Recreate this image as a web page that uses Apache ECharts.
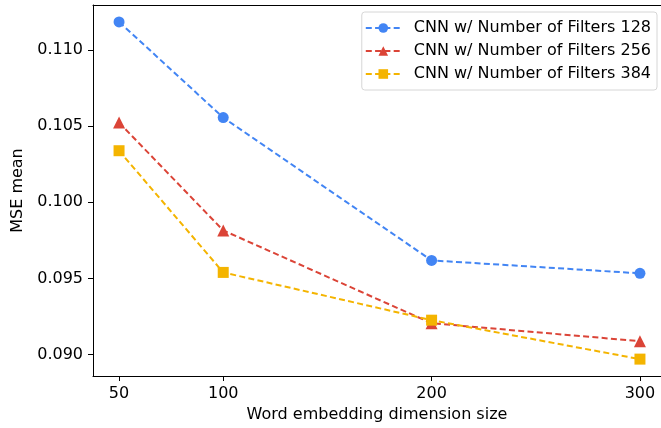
<!DOCTYPE html>
<html>
<head>
<meta charset="utf-8">
<script src="https://cdn.jsdelivr.net/npm/echarts@6/dist/echarts.min.js"></script>
<style>
  html, body { margin: 0; padding: 0; background: #fff; }
  #chart { width: 661px; height: 428px; }
</style>
</head>
<body>
<div id="chart"></div>
<script>
// data
const dims = [50, 100, 200, 300];
const filters128 = [0.11186, 0.10557, 0.09618, 0.09533];
const filters256 = [0.10524, 0.09815, 0.09205, 0.09087];
const filters384 = [0.10339, 0.09539, 0.09225, 0.08969];
const xTicks = [50, 100, 200, 300];
const yTicks = [0.090, 0.095, 0.100, 0.105, 0.110];

const font = "DejaVu Sans";

function makeSeries(name, values, color, symbol, size) {
  return {
    name: name,
    type: "line",
    data: dims.map((d, i) => [d, values[i]]),
    symbol: symbol,
    symbolSize: size,
    color: color,
    itemStyle: { color: color },
    lineStyle: { color: color, width: 2, type: [6, 3.3] },
  };
}

const chart = echarts.init(document.getElementById("chart"));

const axisLine = { show: true, lineStyle: { color: "#000", width: 1 } };

const option = {
  animation: false,
  textStyle: { fontFamily: font },
  grid: { left: 93, top: 5, right: 0, bottom: 52 },
  legend: {
    orient: "vertical",
    right: 4,
    top: 12,
    itemWidth: 35,
    itemHeight: 12,
    itemGap: 7,
    padding: [8, 6, 8, 3],
    borderColor: "#d6d6d6",
    borderWidth: 1,
    borderRadius: 3,
    backgroundColor: "rgba(255,255,255,0.8)",
    textStyle: { fontFamily: font, fontSize: 16, color: "#000", padding: [0, 0, 0, 8] },
  },
  xAxis: [
    {
      type: "value",
      min: 37.5,
      max: 310.1,
      name: "Word embedding dimension size",
      nameLocation: "middle",
      nameGap: 29,
      nameTextStyle: { fontFamily: font, fontSize: 16, color: "#000" },
      axisLine: axisLine,
      axisTick: { show: true, length: 5, customValues: xTicks, lineStyle: { color: "#000" } },
      axisLabel: { customValues: xTicks, fontSize: 16, color: "#000", margin: 10 },
      splitLine: { show: false },
    },
    {
      type: "value",
      position: "top",
      min: 37.5,
      max: 310.1,
      axisLine: axisLine,
      axisTick: { show: false },
      axisLabel: { show: false },
      splitLine: { show: false },
    },
  ],
  yAxis: {
    type: "value",
    min: 0.08858,
    max: 0.11297,
    name: "MSE mean",
    nameLocation: "middle",
    nameGap: 63,
    nameTextStyle: { fontFamily: font, fontSize: 16, color: "#000" },
    axisLine: axisLine,
    axisTick: { show: true, length: 5, customValues: yTicks, lineStyle: { color: "#000" } },
    axisLabel: {
      customValues: yTicks, fontSize: 16, color: "#000", margin: 10,
      formatter: (v) => v.toFixed(3),
    },
    splitLine: { show: false },
  },
  series: [
    makeSeries("CNN w/ Number of Filters 128", filters128, "#4285F4", "circle", 11),
    makeSeries("CNN w/ Number of Filters 256", filters256, "#DB4437", "triangle", 12),
    makeSeries("CNN w/ Number of Filters 384", filters384, "#F4B400", "rect", 11),
  ],
};

chart.setOption(option);
window.addEventListener("resize", chart.resize);
</script>
</body>
</html>
